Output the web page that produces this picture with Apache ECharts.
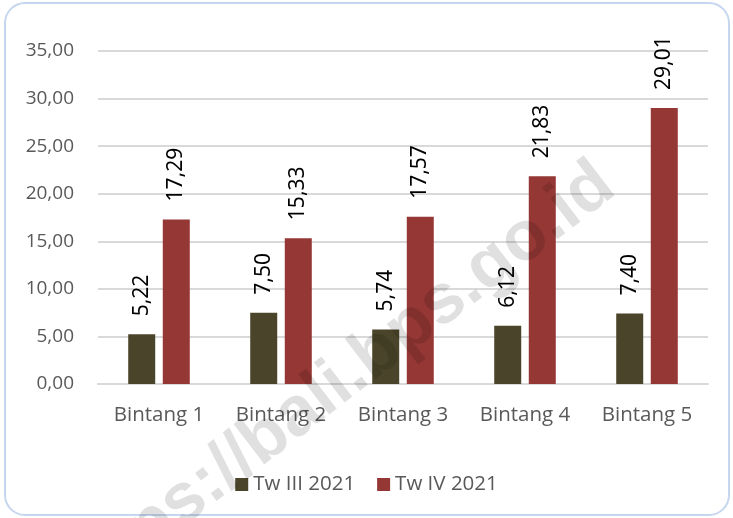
<!DOCTYPE html>
<html>
<head>
<meta charset="utf-8">
<script src="https://cdn.jsdelivr.net/npm/echarts@6/dist/echarts.min.js"></script>
<style>
html,body{margin:0;padding:0;background:#fff;}
#chart{width:733px;height:518px;}
</style>
</head>
<body>
<div id="chart"></div>
<script>
const categories = ['Bintang 1', 'Bintang 2', 'Bintang 3', 'Bintang 4', 'Bintang 5'];
const seriesNames = ['Tw III 2021', 'Tw IV 2021'];
const twIII = [5.22, 7.50, 5.74, 6.12, 7.40];
const twIV = [17.29, 15.33, 17.57, 21.83, 29.01];
const yTicks = [0, 5, 10, 15, 20, 25, 30, 35];

const fmt = v => Number(v).toFixed(2).replace('.', ',');
const chart = echarts.init(document.getElementById('chart'), null, {renderer: 'canvas'});

const labelStyle = {
  show: true,
  position: 'top',
  rotate: 90,
  align: 'left',
  verticalAlign: 'middle',
  distance: 18,
  color: '#000',
  fontFamily: 'Noto Sans',
  fontSize: 21,
  formatter: p => fmt(p.value)
};

chart.setOption({
  animation: false,
  backgroundColor: '#fff',
  grid: {left: 98, right: 25, top: 51, bottom: 134, containLabel: false},
  legend: {
    data: seriesNames,
    bottom: 18,
    left: 'center',
    icon: 'rect',
    itemWidth: 13,
    itemHeight: 13,
    itemGap: 22,
    textStyle: {color: '#595959', fontFamily: 'Open Sans', fontSize: 20.5}
  },
  xAxis: {
    type: 'category',
    data: categories,
    axisLine: {lineStyle: {color: '#d9d9d9', width: 2}},
    axisTick: {show: false},
    axisLabel: {color: '#595959', fontFamily: 'Open Sans', fontSize: 20.5, margin: 21}
  },
  yAxis: {
    type: 'value',
    min: yTicks[0],
    max: yTicks[yTicks.length - 1],
    interval: 5,
    axisLine: {show: false},
    axisTick: {show: false},
    splitLine: {lineStyle: {color: '#d9d9d9', width: 2}},
    axisLabel: {color: '#595959', fontFamily: 'Open Sans', fontSize: 19, margin: 24, formatter: v => fmt(v)}
  },
  series: [
    {name: seriesNames[0], type: 'bar', data: twIII, barWidth: 27, barGap: '28%',
     itemStyle: {color: '#4a452a'}, label: labelStyle},
    {name: seriesNames[1], type: 'bar', data: twIV, barWidth: 27, barGap: '28%',
     itemStyle: {color: '#953735'}, label: labelStyle}
  ],
  graphic: [
    {type: 'rect', z: 100, silent: true,
     shape: {x: 5, y: 3, width: 724, height: 512, r: 20},
     style: {fill: 'none', stroke: '#c6d6ee', lineWidth: 2}},
    {type: 'text', z: 101, silent: true,
     x: 628, y: 205, rotation: 37.5 * Math.PI / 180,
     style: {text: 'https://bali.bps.go.id', fill: 'rgba(0,0,0,0.12)', font: 'bold 70px "Liberation Sans"',
             textAlign: 'right', textVerticalAlign: 'bottom'}}
  ]
});
</script>
</body>
</html>
